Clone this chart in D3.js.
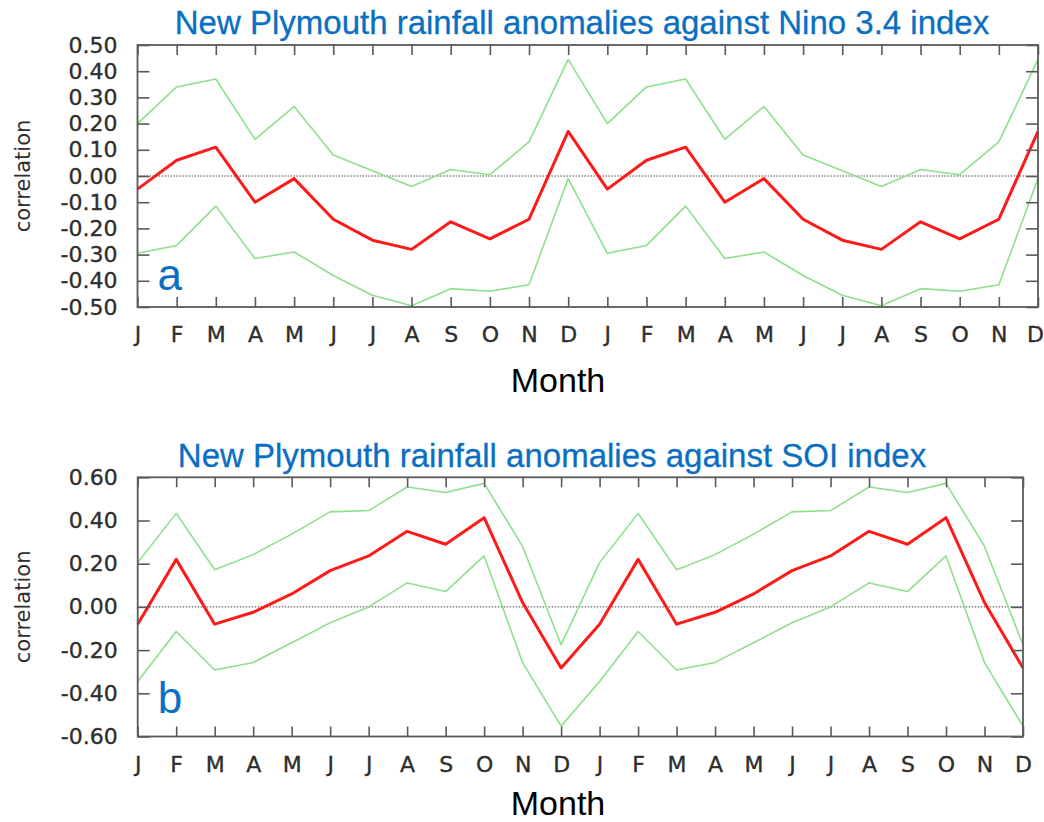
<!DOCTYPE html>
<html>
<head>
<meta charset="utf-8">
<script src="https://cdn.jsdelivr.net/npm/d3@7"></script>
<style>
  html, body { margin: 0; padding: 0; background: #fff; }
  svg { display: block; }
</style>
</head>
<body>
<svg id="chart" width="1044" height="822"></svg>
<script>
// ---------- data ----------
const months = ["J","F","M","A","M","J","J","A","S","O","N","D",
                "J","F","M","A","M","J","J","A","S","O","N","D"];

// Panel a: Nino 3.4
const ninoCorr  = [-0.05, 0.06, 0.11, -0.10, -0.01, -0.165, -0.245, -0.28, -0.175, -0.24, -0.165, 0.17,
                   -0.05, 0.06, 0.11, -0.10, -0.01, -0.165, -0.245, -0.28, -0.175, -0.24, -0.165, 0.17];
const ninoUpper = [0.20, 0.34, 0.37, 0.14, 0.265, 0.08, 0.02, -0.04, 0.025, 0.005, 0.13, 0.445,
                   0.20, 0.34, 0.37, 0.14, 0.265, 0.08, 0.02, -0.04, 0.025, 0.005, 0.13, 0.445];
const ninoLower = [-0.295, -0.265, -0.115, -0.315, -0.29, -0.38, -0.455, -0.495, -0.43, -0.44, -0.415, -0.01,
                   -0.295, -0.265, -0.115, -0.315, -0.29, -0.38, -0.455, -0.495, -0.43, -0.44, -0.415, -0.01];
const ninoTicks  = [-0.5, -0.4, -0.3, -0.2, -0.1, 0.0, 0.1, 0.2, 0.3, 0.4, 0.5];
const ninoLabels = ["-0.50","-0.40","-0.30","-0.20","-0.10","0.00","0.10","0.20","0.30","0.40","0.50"];

// Panel b: SOI
const soiCorr  = [-0.08, 0.22, -0.08, -0.025, 0.06, 0.168, 0.236, 0.35, 0.29, 0.413, 0.02, -0.283,
                  -0.08, 0.22, -0.08, -0.025, 0.06, 0.168, 0.236, 0.35, 0.29, 0.413, 0.02, -0.283];
const soiUpper = [0.205, 0.433, 0.172, 0.242, 0.337, 0.44, 0.446, 0.555, 0.53, 0.572, 0.28, -0.175,
                  0.205, 0.433, 0.172, 0.242, 0.337, 0.44, 0.446, 0.555, 0.53, 0.572, 0.28, -0.175];
const soiLower = [-0.345, -0.114, -0.292, -0.257, -0.166, -0.073, 0.0, 0.111, 0.071, 0.236, -0.258, -0.552,
                  -0.345, -0.114, -0.292, -0.257, -0.166, -0.073, 0.0, 0.111, 0.071, 0.236, -0.258, -0.552];
const soiTicks  = [-0.6, -0.4, -0.2, 0.0, 0.2, 0.4, 0.6];
const soiLabels = ["-0.60","-0.40","-0.20","0.00","0.20","0.40","0.60"];

const titles = ["New Plymouth rainfall anomalies against Nino 3.4 index",
                "New Plymouth rainfall anomalies against SOI index"];
const panelLetters = ["a", "b"];
const xTitle = "Month";
const yTitle = "correlation";

// ---------- styles ----------
const BLUE = "#0a6fc2";
const FRAME = "#5a5a5a";
const TEXT = "#2e2e2e";
const RED = "#ff1a1a";
const GREEN = "#8ee08a";
const tickFont = "'DejaVu Sans', sans-serif";
const titleFont = "'Liberation Sans', Arial, sans-serif";

const svg = d3.select("#chart");

function panel(cfg) {
  const x = d3.scalePoint().domain(d3.range(months.length)).range([cfg.left, cfg.right]);
  const y = d3.scaleLinear().domain(cfg.domain).range([cfg.bottom, cfg.top]);
  const g = svg.append("g");

  // title
  g.append("text")
    .attr("x", cfg.titleX).attr("y", cfg.titleY)
    .attr("text-anchor", "middle")
    .attr("font-family", titleFont).attr("font-size", 33)
    .attr("fill", BLUE)
    .attr("stroke", BLUE).attr("stroke-width", 0.3)
    .text(cfg.title);

  // zero line
  g.append("line")
    .attr("x1", cfg.left).attr("x2", cfg.right)
    .attr("y1", y(0)).attr("y2", y(0))
    .attr("stroke", "#444").attr("stroke-width", 1)
    .attr("stroke-dasharray", "1.5,1.5");

  // series
  const line = d3.line().x((d, i) => x(i)).y(d => y(d));
  [[cfg.upper, GREEN, 1.6], [cfg.lower, GREEN, 1.6], [cfg.corr, RED, 3]].forEach(([data, col, w]) => {
    g.append("path").datum(data)
      .attr("d", line)
      .attr("fill", "none")
      .attr("stroke", col)
      .attr("stroke-width", w)
      .attr("stroke-linejoin", "round");
  });

  // axes
  const styleAxis = sel => {
    sel.select(".domain").remove();
    sel.selectAll(".tick line").attr("stroke", FRAME).attr("stroke-width", 1.6);
    sel.selectAll(".tick text").attr("fill", TEXT)
      .attr("stroke", TEXT).attr("stroke-width", 0.35)
      .attr("font-family", tickFont).attr("font-size", 22);
  };
  const bottomAxis = g.append("g").attr("transform", `translate(0,${cfg.bottom})`)
    .call(d3.axisBottom(x).tickSize(-10).tickPadding(19.5).tickFormat(i => months[i]))
    .call(styleAxis);
  // keep the last month label inside the page edge
  bottomAxis.selectAll(".tick text").filter(i => i === months.length - 1).attr("dx", cfg.lastDx);

  g.append("g").attr("transform", `translate(0,${cfg.top})`)
    .call(d3.axisTop(x).tickSize(-10).tickFormat(""))
    .call(styleAxis);
  g.append("g").attr("transform", `translate(${cfg.left},0)`)
    .call(d3.axisLeft(y).tickValues(cfg.ticks).tickSize(-12).tickPadding(20)
      .tickFormat((d, i) => cfg.labels[i]))
    .call(styleAxis);
  g.append("g").attr("transform", `translate(${cfg.right},0)`)
    .call(d3.axisRight(y).tickValues(cfg.ticks).tickSize(-12).tickFormat(""))
    .call(styleAxis);

  // frame
  g.append("rect")
    .attr("x", cfg.left).attr("y", cfg.top)
    .attr("width", cfg.right - cfg.left).attr("height", cfg.bottom - cfg.top)
    .attr("fill", "none").attr("stroke", FRAME).attr("stroke-width", 1.8);

  // panel letter
  g.append("text")
    .attr("x", cfg.left + 20).attr("y", cfg.letterY)
    .attr("font-family", titleFont).attr("font-size", 44)
    .attr("fill", BLUE)
    .text(cfg.letter);

  // axis titles
  g.append("text")
    .attr("transform", `translate(30,${(cfg.top + cfg.bottom) / 2}) rotate(-90)`)
    .attr("text-anchor", "middle")
    .attr("font-family", tickFont).attr("font-size", 21)
    .attr("fill", TEXT)
    .text(yTitle);
  g.append("text")
    .attr("x", 558).attr("y", cfg.monthY)
    .attr("text-anchor", "middle")
    .attr("font-family", titleFont).attr("font-size", 34)
    .attr("fill", "#000")
    .text(xTitle);
}

panel({
  left: 137.5, right: 1038, top: 45, bottom: 307, domain: [-0.5, 0.5],
  ticks: ninoTicks, labels: ninoLabels,
  corr: ninoCorr, upper: ninoUpper, lower: ninoLower,
  title: titles[0], titleX: 582, titleY: 34,
  letter: panelLetters[0], letterY: 290, monthY: 392, lastDx: -3
});
panel({
  left: 137.7, right: 1023, top: 477.3, bottom: 736.5, domain: [-0.6, 0.6],
  ticks: soiTicks, labels: soiLabels,
  corr: soiCorr, upper: soiUpper, lower: soiLower,
  title: titles[1], titleX: 552, titleY: 467,
  letter: panelLetters[1], letterY: 713, monthY: 815, lastDx: 0
});
</script>
</body>
</html>
